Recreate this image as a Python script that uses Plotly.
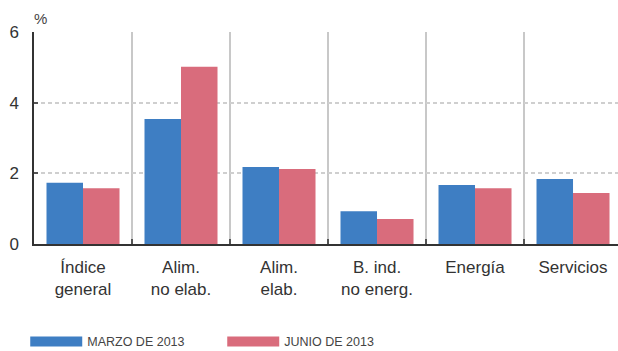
import plotly.graph_objects as go

categories = ["Índice<br>general", "Alim.<br>no elab.", "Alim.<br>elab.", "B. ind.<br>no energ.", "Energía", "Servicios"]
marzo_2013 = [1.73, 3.54, 2.18, 0.93, 1.67, 1.84]
junio_2013 = [1.58, 5.02, 2.12, 0.71, 1.58, 1.44]
series_names = ["MARZO DE 2013", "JUNIO DE 2013"]
y_ticks = [0, 2, 4, 6]

BLUE = "#3e7ec3"
PINK = "#d96c7c"
TXT = "#333333"

fig = go.Figure()
for name, vals, col in [(series_names[0], marzo_2013, BLUE), (series_names[1], junio_2013, PINK)]:
    fig.add_trace(go.Bar(x=categories, y=vals, name=name, marker_color=col,
                         marker_line_width=0, showlegend=False, legendgroup=name))
for name, col in [(series_names[0], BLUE), (series_names[1], PINK)]:
    fig.add_trace(go.Scatter(x=[None], y=[None], mode="lines", name=name,
                             line=dict(color=col, width=10), legendgroup=name, showlegend=True))

fig.update_layout(
    width=618, height=351,
    margin=dict(l=34, r=0, t=32, b=107, autoexpand=False),
    paper_bgcolor="white", plot_bgcolor="white",
    barmode="group", bargap=0.255, bargroupgap=0,
    font=dict(family="Liberation Sans, Arial, sans-serif", color=TXT, size=16),
    showlegend=True,
    legend=dict(orientation="h", x=-0.015, xanchor="left", y=-0.462, yanchor="middle",
                font=dict(family="Liberation Sans, Arial, sans-serif", size=12.5, color="#444444"),
                itemwidth=52, entrywidth=130, traceorder="normal", bgcolor="rgba(0,0,0,0)"),
    xaxis=dict(
        range=[-0.5, 5.459], automargin=False,
        showline=True, linecolor=TXT, linewidth=1.5,
        ticks="inside", tickson="boundaries", ticklen=5, tickcolor="#555555", tickwidth=1.5,
        showgrid=True, gridcolor="#c8c8c8", gridwidth=1.5,
        tickfont=dict(size=17, color=TXT),
        ticklabelstandoff=7,
        fixedrange=True,
    ),
    yaxis=dict(
        range=[0, 6], tickvals=y_ticks, automargin=False,
        showline=True, linecolor=TXT, linewidth=1.5,
        ticks="inside", ticklen=4, tickcolor="#555555", tickwidth=1.5,
        showgrid=True, gridcolor="#cfcfcf", gridwidth=1.5, griddash="4px,3px",
        zeroline=False,
        tickfont=dict(size=17, color=TXT),
        ticklabelstandoff=10,
        fixedrange=True,
    ),
    annotations=[dict(text="%", xref="paper", yref="paper", x=0.0, y=1.0, xanchor="left",
                      yanchor="bottom", xshift=-2, yshift=3, showarrow=False,
                      font=dict(size=15, color="#444444"))],
)

fig.write_html("out.html", config={"displayModeBar": False},
               post_script="document.body.style.margin='0';document.body.style.overflow='hidden';")
